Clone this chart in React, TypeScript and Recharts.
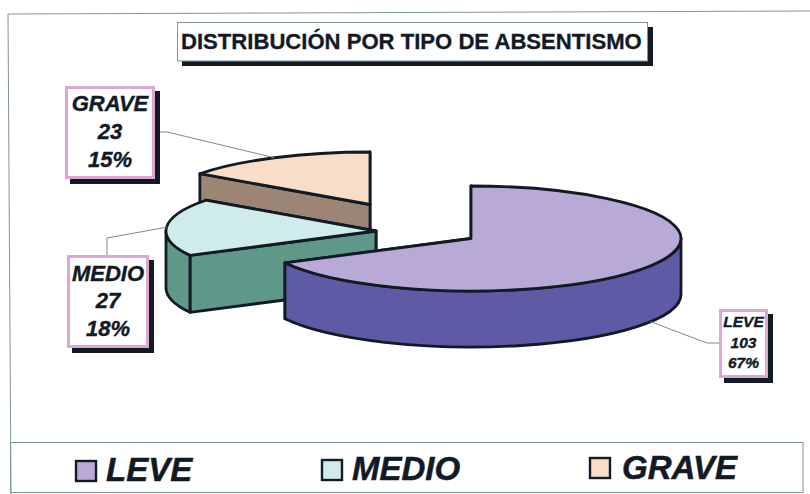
import React from "react";
import { PieChart, Pie, Legend } from "recharts";

const CATEGORIES = ["GRAVE", "MEDIO", "LEVE"];
const VALUES = [23, 27, 103];
const LEGEND_ORDER = ["LEVE", "MEDIO", "GRAVE"];
const TITLE = "DISTRIBUCIÓN POR TIPO DE ABSENTISMO";

const chartData = CATEGORIES.map((name, i) => ({ name, value: VALUES[i] }));

const W = 810;
const H = 494;
const PIE_CX = 400;
const PIE_CY = 230;
const RADIUS = 210;
const TILT = 0.25;
const FONT = "'Liberation Sans', Arial, sans-serif";
const INK = "#121a26";
const FRAME = "#7f939c";

const TOP_FILL: Record<string, string> = { LEVE: "#B9A9D6", MEDIO: "#CFECEA", GRAVE: "#FADDC6" };
const WALL_FILL: Record<string, string> = { LEVE: "#5E5AA6", MEDIO: "#5F9788", GRAVE: "#9C8575" };
const EXPLODE: Record<string, { dx: number; dy: number; depth: number }> = {
  LEVE: { dx: 71, dy: 8.5, depth: 56 },
  MEDIO: { dx: -24, dy: 1, depth: 57 },
  GRAVE: { dx: -30, dy: -25.5, depth: 56 },
};
const CALLOUT: Record<string, any> = {
  GRAVE: { x: 65, y: 86, w: 90, h: 93, size: 22, base: [111, 138.5, 166.5], elbow: [167, 132], end: [160, 132], wall: false },
  MEDIO: { x: 67, y: 255, w: 82, h: 93, size: 22, base: [281, 308, 336], elbow: [107, 238], end: [107, 255], wall: false },
  LEVE: { x: 719, y: 309, w: 49, h: 69, size: 15.5, base: [327, 348, 368], elbow: [707, 343], end: [719, 343], wall: true },
};
const LEGEND_POS: Record<string, { swatch: number; text: number; top: number; base: number }> = {
  LEVE: { swatch: 75, text: 106, top: 460, base: 481 },
  MEDIO: { swatch: 321, text: 352, top: 459, base: 480 },
  GRAVE: { swatch: 589, text: 622, top: 457, base: 479 },
};

const rad = (a: number) => (a * Math.PI) / 180;

function Slice3D(props: any) {
  const { cx, cy, outerRadius, startAngle, endAngle } = props;
  const name = props.name ?? props.payload?.name;
  const { dx, dy, depth } = EXPLODE[name];
  const rx = outerRadius;
  const ry = outerRadius * TILT;
  const ox = cx + dx;
  const oy = cy + dy;
  const p = (a: number, d = 0) => `${ox + rx * Math.cos(rad(a))} ${oy - ry * Math.sin(rad(a)) + d}`;
  const arc = (from: number, to: number, d: number, sweep: number) =>
    `A ${rx} ${ry} 0 ${Math.abs(to - from) > 180 ? 1 : 0} ${sweep} ${p(to, d)}`;
  const common = { stroke: INK, strokeWidth: 2.8, strokeLinejoin: "round" as const };
  const radial = (a: number) => (
    <path d={`M ${ox} ${oy} L ${p(a)} L ${p(a, depth)} L ${ox} ${oy + depth} Z`} fill={WALL_FILL[name]} {...common} />
  );
  const a0 = Math.max(startAngle, 180);
  const a1 = Math.min(endAngle, 360);
  return (
    <g>
      {radial(startAngle)}
      {radial(endAngle)}
      {a1 > a0 && (
        <path
          d={`M ${p(a0)} ${arc(a0, a1, 0, 0)} L ${p(a1, depth)} ${arc(a1, a0, depth, 1)} Z`}
          fill={WALL_FILL[name]}
          {...common}
        />
      )}
      <path d={`M ${ox} ${oy} L ${p(startAngle)} ${arc(startAngle, endAngle, 0, 0)} Z`} fill={TOP_FILL[name]} {...common} />
    </g>
  );
}

function Callout(props: any) {
  const { cx, cy, midAngle, name, value, percent } = props;
  const c = CALLOUT[name];
  const e = EXPLODE[name];
  const ax = cx + e.dx + RADIUS * Math.cos(rad(midAngle));
  const ay = cy + e.dy - RADIUS * TILT * Math.sin(rad(midAngle)) + (c.wall ? e.depth : 0);
  const lines = [name, String(value), `${Math.round(percent * 100)}%`];
  return (
    <g>
      <polyline points={`${ax},${ay} ${c.elbow[0]},${c.elbow[1]} ${c.end[0]},${c.end[1]}`} fill="none" stroke="#7c8c90" strokeWidth={1} />
      <rect x={c.x + 5} y={c.y + 5} width={c.w} height={c.h} fill={INK} />
      <rect x={c.x + 1.5} y={c.y + 1.5} width={c.w - 3} height={c.h - 3} fill="#ffffff" stroke="#DFA6D2" strokeWidth={3} />
      {lines.map((t, i) => (
        <text key={i} x={c.x + c.w / 2} y={c.base[i]} textAnchor="middle" fontFamily={FONT} fontWeight="bold" fontStyle="italic" fontSize={c.size} fill={INK} stroke={INK} strokeWidth={0.4}>
          {t}
        </text>
      ))}
    </g>
  );
}

function LegendContent() {
  return (
    <svg width={W} height={H} style={{ position: "absolute", left: 0, top: 0, pointerEvents: "none" }}>
      {LEGEND_ORDER.map((name) => {
        const l = LEGEND_POS[name];
        return (
          <g key={name}>
            <rect x={l.swatch + 1} y={l.top + 1} width={20} height={20} fill={TOP_FILL[name]} stroke={INK} strokeWidth={2.4} />
            <text x={l.text} y={l.base} fontFamily={FONT} fontWeight="bold" fontStyle="italic" fontSize={33} fill={INK} stroke={INK} strokeWidth={0.5}>
              {name}
            </text>
          </g>
        );
      })}
    </svg>
  );
}

export default function App() {
  return (
    <div style={{ position: "absolute", left: 0, top: 0, width: W, height: H, background: "#fff" }}>
      <PieChart width={W} height={H} margin={{ top: 0, right: 0, bottom: 0, left: 0 }}>
        <line x1={8} y1={14} x2={810} y2={11} stroke={FRAME} strokeWidth={1} />
        <line x1={8} y1={14} x2={11} y2={494} stroke={FRAME} strokeWidth={1} />
        <rect x={10.5} y={442.5} width={792.5} height={50} fill="none" stroke={FRAME} strokeWidth={1} />
        <rect x={182} y={27} width={471} height={39} fill={INK} />
        <rect x={177.5} y={22.5} width={470} height={38.5} fill="#fff" stroke={FRAME} strokeWidth={1} />
        <text x={181} y={49} fontFamily={FONT} fontWeight="bold" fontSize={22.1} fill={INK} stroke={INK} strokeWidth={0.3}>
          {TITLE}
        </text>
        <Pie
          data={chartData}
          dataKey="value"
          nameKey="name"
          cx={PIE_CX}
          cy={PIE_CY}
          outerRadius={RADIUS}
          startAngle={90}
          endAngle={450}
          stroke="none"
          isAnimationActive={false}
          shape={Slice3D}
          label={Callout}
          labelLine={false}
        />
        <Legend verticalAlign="bottom" height={1} content={LegendContent} wrapperStyle={{ left: 0, top: 0, bottom: "auto" }} />
      </PieChart>
    </div>
  );
}
